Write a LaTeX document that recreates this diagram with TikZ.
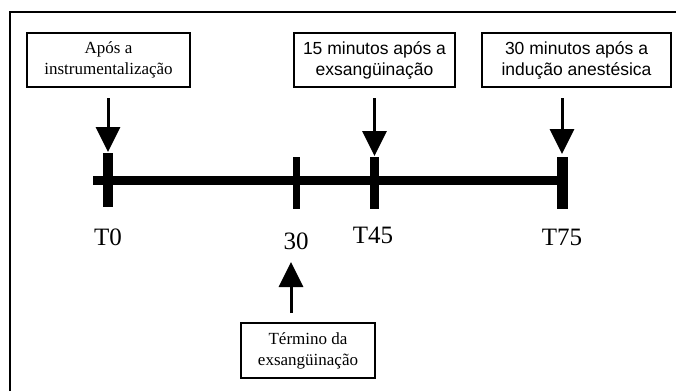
\documentclass[tikz,border=0pt]{standalone}
\usepackage{fontspec}
\setmainfont{Liberation Serif}
\newfontfamily\sansf{Liberation Sans}
\usetikzlibrary{arrows.meta}
\begin{document}
\begin{tikzpicture}[x=1pt,y=-1pt,
  frame/.style={line width=1.4pt},
  box/.style={draw,line width=2pt,inner sep=0pt,align=center,font=\fontsize{17}{21}\selectfont},
  sbox/.style={box,font=\sansf\fontsize{17.5}{21}\selectfont},
  axis/.style={line width=9pt},
  tick/.style={line width=9pt},
  arr/.style={line width=3pt,-{Triangle[width=24pt,length=25pt]}},
  lab/.style={anchor=base,inner sep=0pt,font=\fontsize{25}{25}\selectfont}]
\useasboundingbox (0,0) rectangle (676,391);
\fill[white] (0,0) rectangle (676,391);
% frame
\draw[frame] (10,391) -- (10,12) -- (676,12);
% boxes
\node[box,minimum width=163pt,minimum height=54pt] (b1) at (108.5,60) {Após a\\instrumentalização};
\node[sbox,minimum width=161pt,minimum height=54pt] (b2) at (374.5,60) {15 minutos após a\\exsangüinação};
\node[sbox,minimum width=189pt,minimum height=54pt] (b3) at (576.5,60) {30 minutos após a\\indução anestésica};
\node[box,minimum width=134pt,minimum height=55pt] (b4) at (308,350.5) {Término da\\exsangüinação};
% axis
\coordinate (ls) at (93,180.5);
\coordinate (le) at (562,180.5);
\draw[axis] (ls) -- (le);
% ticks
\coordinate (t0a) at (108,153); \coordinate (t0b) at (108,207);
\coordinate (t30a) at (296,157); \coordinate (t30b) at (296,209);
\coordinate (t45a) at (374.5,157); \coordinate (t45b) at (374.5,209);
\coordinate (t75a) at (562,157); \coordinate (t75b) at (562,209);
\draw[tick,line width=10pt] (t0a) -- (t0b);
\draw[tick,line width=7pt] (t30a) -- (t30b);
\draw[tick] (t45a) -- (t45b);
\draw[tick,line width=11pt] (t75a) -- (t75b);
% labels
\node[lab] (l0) at (108,245) {T0};
\node[lab] (l30) at (296,249) {30};
\node[lab] (l45) at (373,243) {T45};
\node[lab] (l75) at (562,245) {T75};
% arrows
\draw[arr,shorten <=10pt,shorten >=1pt] (t0a |- b1.south) -- (t0a);
\draw[arr,shorten <=10pt,shorten >=1pt] (t45a |- b2.south) -- (t45a);
\draw[arr,shorten <=10pt,shorten >=3pt] (t75a |- b3.south) -- (t75a);
\coordinate (up) at (291,262);
\draw[arr,shorten <=9pt] (up |- b4.north) -- (up);
\end{tikzpicture}
\end{document}
